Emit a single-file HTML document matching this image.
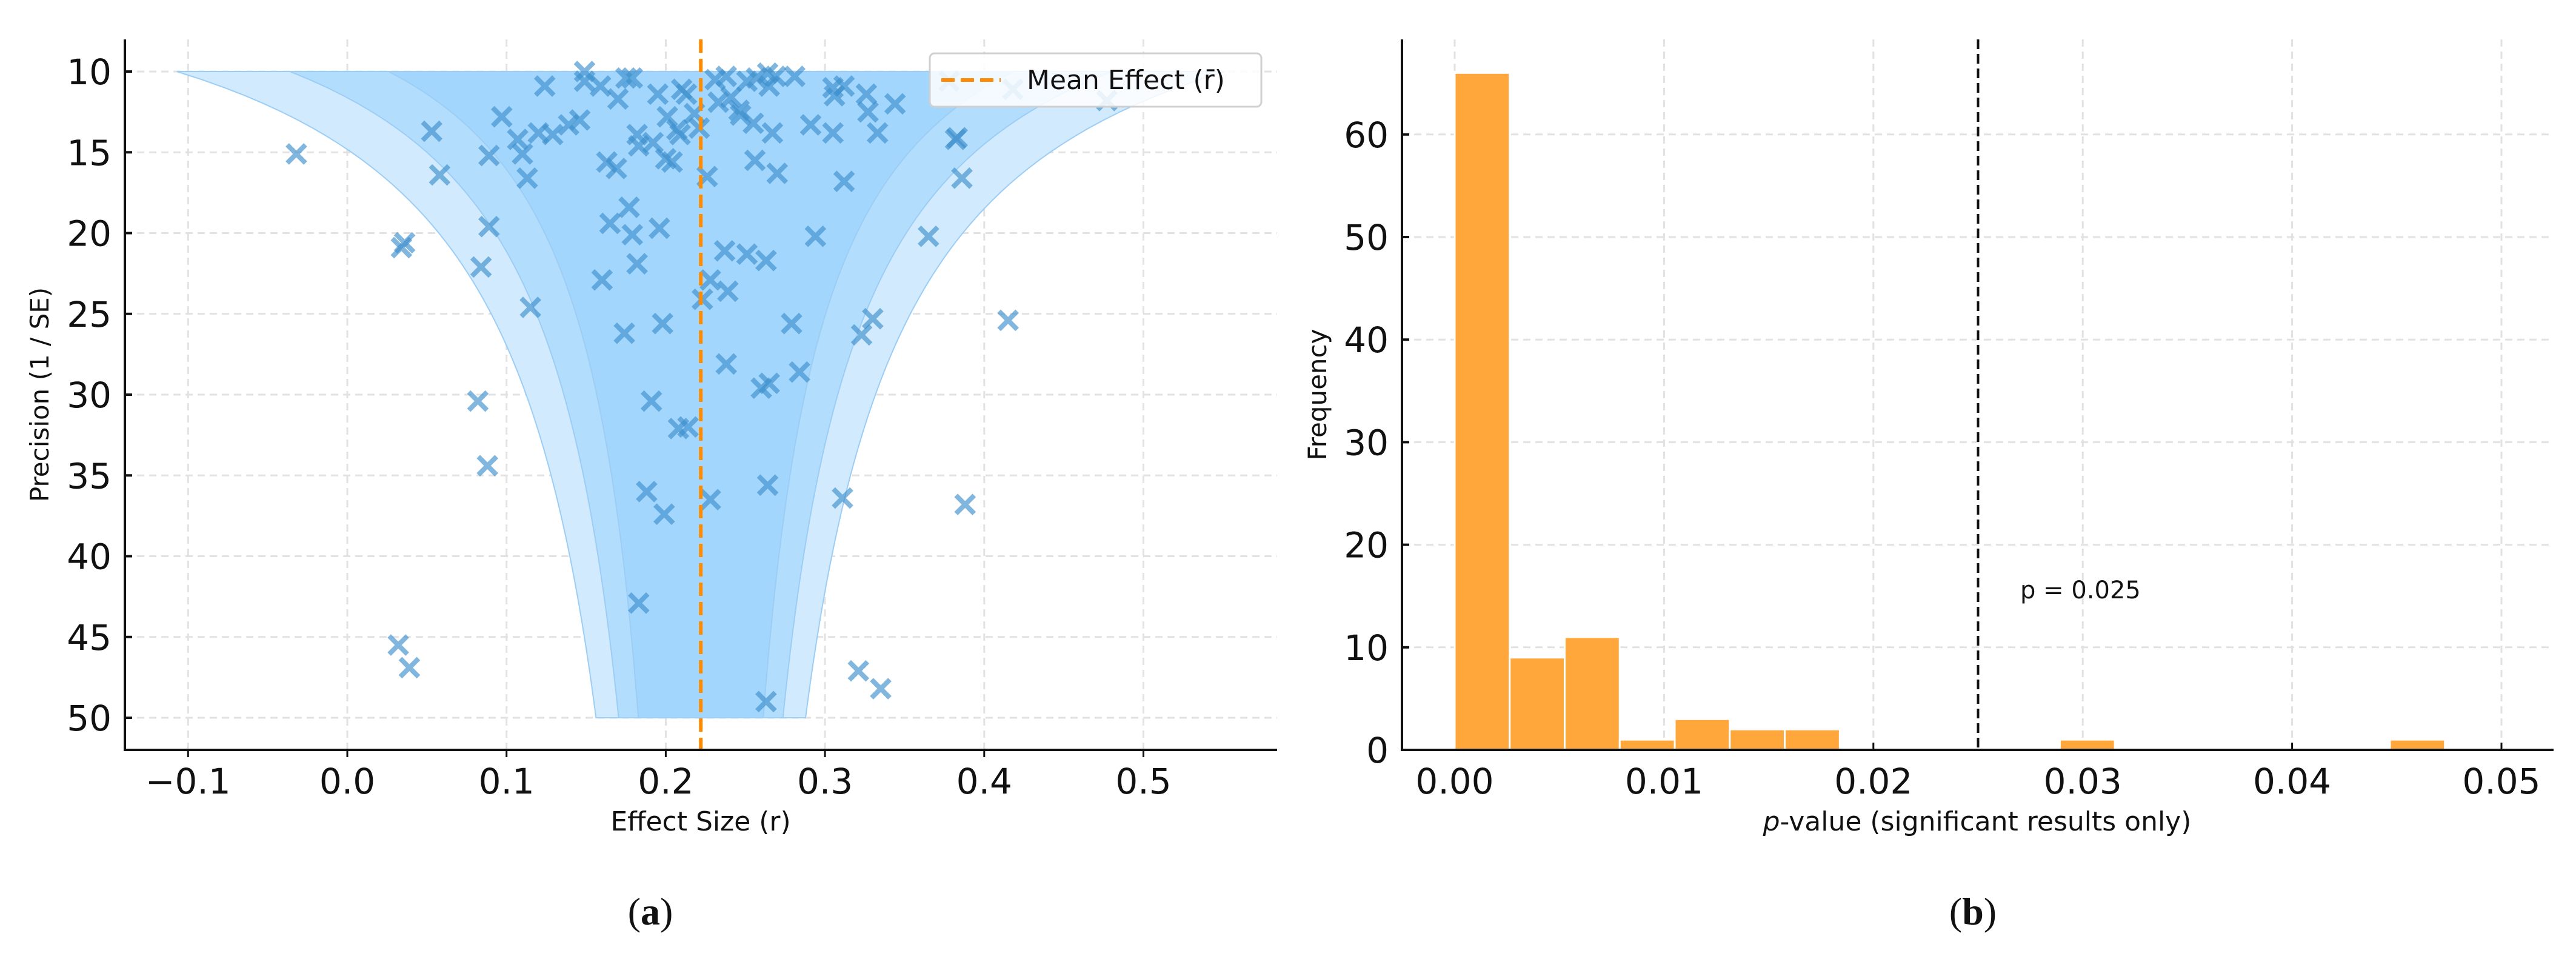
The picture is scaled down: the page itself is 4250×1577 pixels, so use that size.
<!DOCTYPE html>
<html><head><meta charset="utf-8"><style>
html,body{margin:0;padding:0;background:#fff}
svg{display:block}
text{font-family:"DejaVu Sans","Liberation Sans",sans-serif;fill:#111}
</style></head><body>
<svg id="fig" width="4250" height="1577" viewBox="0 0 4250 1577" xmlns="http://www.w3.org/2000/svg">
<g id="panelA"></g>
<g id="panelB"></g>
<text x="1073" y="1525" text-anchor="middle" style="font-family:'Liberation Serif',serif;font-size:64px">(<tspan font-weight="bold">a</tspan>)</text>
<text x="3255" y="1525" text-anchor="middle" style="font-family:'Liberation Serif',serif;font-size:64px">(<tspan font-weight="bold">b</tspan>)</text>
</svg>
<script>
const effects=[-0.032,0.053,0.058,0.036,0.034,0.089,0.089,0.084,0.115,0.082,0.088,0.032,0.039,0.097,0.107,0.110,0.113,0.124,0.120,0.129,0.139,0.146,0.149,0.149,0.159,0.170,0.175,0.179,0.195,0.182,0.183,0.192,0.163,0.169,0.177,0.165,0.179,0.196,0.182,0.160,0.174,0.198,0.191,0.208,0.214,0.188,0.199,0.183,0.201,0.207,0.209,0.204,0.200,0.210,0.213,0.218,0.221,0.223,0.228,0.228,0.226,0.231,0.238,0.241,0.233,0.246,0.247,0.251,0.257,0.264,0.269,0.265,0.281,0.255,0.267,0.270,0.256,0.237,0.251,0.263,0.239,0.238,0.260,0.265,0.264,0.279,0.284,0.294,0.291,0.305,0.306,0.312,0.305,0.312,0.326,0.327,0.333,0.344,0.323,0.330,0.311,0.321,0.335,0.263,0.365,0.382,0.383,0.386,0.388,0.415,0.418,0.477,0.378];
const precisions=[15.1,13.7,16.4,20.6,20.9,15.2,19.6,22.1,24.6,30.4,34.4,45.5,46.9,12.8,14.2,15.1,16.6,10.9,13.8,13.9,13.3,13.0,10.0,10.6,10.9,11.7,10.4,10.4,11.4,13.9,14.6,14.4,15.6,16.0,18.4,19.4,20.1,19.7,21.9,22.9,26.2,25.6,30.4,32.1,32.0,36.0,37.4,42.9,12.8,13.6,13.9,15.6,15.4,11.1,11.4,12.6,13.5,24.1,22.9,36.5,16.5,10.5,10.3,11.6,11.9,12.4,12.7,10.6,10.4,10.1,10.3,10.9,10.3,13.2,13.8,16.3,15.5,21.1,21.3,21.7,23.6,28.1,29.6,29.3,35.6,25.6,28.6,20.2,13.3,11.0,11.5,10.9,13.8,16.8,11.4,12.5,13.8,12.0,26.3,25.3,36.4,47.1,48.2,49.0,20.2,14.2,14.1,16.6,36.8,25.4,11.1,11.8,10.6];
const meanEffect=[0.222];
const funnelZ=[3.29,2.58,1.96];
const xTicksA=[-0.1,0.0,0.1,0.2,0.3,0.4,0.5];
const yTicksA=[10,15,20,25,30,35,40,45,50];
const binCounts=[66,9,11,1,3,2,2,0,0,0,0,1,0,0,0,0,0,1];
const binEdgesRange=[0,0.0473];
const thresholdP=[0.025];
const xTicksB=[0.00,0.01,0.02,0.03,0.04,0.05];
const yTicksB=[0,10,20,30,40,50,60];

const NS="http://www.w3.org/2000/svg";
function mk(parent,tag,attrs,txt){const e=document.createElementNS(NS,tag);for(const k in attrs)e.setAttribute(k,attrs[k]);if(txt!==undefined)e.textContent=txt;parent.appendChild(e);return e;}

// ---- Panel A ----
const A=document.getElementById('panelA');
const aL=206,aR=2107,aT=65,aB=1237;
const ax=v=>573+(v-0)*2627;
const ay=p=>118+(p-10)*26.65;
xTicksA.forEach(t=>{
  const g=mk(A,'line',{x1:ax(t),x2:ax(t),y1:aT,y2:aB,stroke:'#e2e2e2','stroke-width':3,'stroke-dasharray':'12,8'});
  
  
  const tk=mk(A,'line',{x1:ax(t),x2:ax(t),y1:aB,y2:aB+12,stroke:'#111','stroke-width':3});
  
  
  const lb=mk(A,'text',{x:ax(t),y:aB+72,'text-anchor':'middle','font-size':58},(t<0?'\u2212':'')+Math.abs(t).toFixed(1));
  
  
});
yTicksA.forEach(t=>{
  const g=mk(A,'line',{x1:aL,x2:aR,y1:ay(t),y2:ay(t),stroke:'#e2e2e2','stroke-width':3,'stroke-dasharray':'12,8'});
  
  
  const tk=mk(A,'line',{x1:aL,x2:aL+12,y1:ay(t),y2:ay(t),stroke:'#111','stroke-width':4});
  
  
  const lb=mk(A,'text',{x:aL-22,y:ay(t)+21,'text-anchor':'end','font-size':58},String(t));
  
  
});
const fills=['#d2eafd','#b3ddfc','#a2d6fd'];
funnelZ.forEach((z,i)=>{
  const m=meanEffect[0];let pts=[];
  for(let p=10;p<=50.001;p+=0.5)pts.push([ax(m-z/p),ay(p)]);
  for(let p=50;p>=9.999;p-=0.5)pts.push([ax(m+z/p),ay(p)]);
  const poly=mk(A,'polygon',{points:pts.map(q=>q.join(',')).join(' '),fill:fills[i],stroke:'#9ccdf5','stroke-width':2});
  
  
});
effects.forEach((e,i)=>{
  const cx=ax(e),cy=ay(precisions[i]),s=15;
  const p=mk(A,'path',{d:`M${cx-s},${cy-s}L${cx+s},${cy+s}M${cx-s},${cy+s}L${cx+s},${cy-s}`,stroke:'#3d8fcc','stroke-width':8,'stroke-opacity':0.65,fill:'none'});
  
  
});
const ml=mk(A,'line',{x1:ax(meanEffect[0]),x2:ax(meanEffect[0]),y1:aT,y2:aB,stroke:'#ff8c00','stroke-width':6,'stroke-dasharray':'22,10'});


const sp1=mk(A,'path',{d:`M${aL},${aT}L${aL},${aB}L${aR},${aB}`,stroke:'#111','stroke-width':4,fill:'none'});


const leg=mk(A,'g',{});


mk(leg,'rect',{x:1534,y:88,width:547,height:88,rx:8,fill:'#fff','fill-opacity':0.85,stroke:'#d0d0d0','stroke-width':3});
mk(leg,'line',{x1:1553,x2:1651,y1:132,y2:132,stroke:'#ff8c00','stroke-width':6,'stroke-dasharray':'22,10'});
const lt=mk(leg,'text',{x:1694,y:147,'font-size':44},'Mean Effect (r\u0304)');


const xla=mk(A,'text',{x:1156,y:1370,'text-anchor':'middle','font-size':44},'Effect Size (r)');


const yla=mk(A,'text',{x:0,y:0,'text-anchor':'middle','font-size':42,transform:'translate(80,651) rotate(-90)'},'Precision (1 / SE)');



// ---- Panel B ----
const B=document.getElementById('panelB');
const bL=2313,bR=4213,bT=65,bB=1237;
const bx=v=>2400+v*34540;
const by=c=>1237-c*16.92;
xTicksB.forEach(t=>{
  const g=mk(B,'line',{x1:bx(t),x2:bx(t),y1:bT,y2:bB,stroke:'#e2e2e2','stroke-width':3,'stroke-dasharray':'12,8'});
  
  
  const tk=mk(B,'line',{x1:bx(t),x2:bx(t),y1:bB,y2:bB-12,stroke:'#111','stroke-width':3});
  
  
  const lb=mk(B,'text',{x:bx(t),y:bB+72,'text-anchor':'middle','font-size':58},t.toFixed(2));
  
  
});
yTicksB.forEach(t=>{
  const g=mk(B,'line',{x1:bL,x2:bR,y1:by(t),y2:by(t),stroke:'#e2e2e2','stroke-width':3,'stroke-dasharray':'12,8'});
  
  
  const tk=mk(B,'line',{x1:bL,x2:bL+12,y1:by(t),y2:by(t),stroke:'#111','stroke-width':4});
  
  
  const lb=mk(B,'text',{x:bL-22,y:by(t)+21,'text-anchor':'end','font-size':58},String(t));
  
  
});
const bw=(binEdgesRange[1]-binEdgesRange[0])/binCounts.length;
binCounts.forEach((c,i)=>{
  if(c<=0)return;
  const x0=bx(binEdgesRange[0]+i*bw),x1=bx(binEdgesRange[0]+(i+1)*bw);
  const r=mk(B,'rect',{x:x0,y:by(c),width:x1-x0,height:by(0)-by(c),fill:'#ffa73a',stroke:'#ffffff','stroke-width':3});
  
  
});
const tl=mk(B,'line',{x1:bx(thresholdP[0]),x2:bx(thresholdP[0]),y1:bT,y2:bB,stroke:'#111','stroke-width':4,'stroke-dasharray':'16,8'});


const tt=mk(B,'text',{x:3333,y:987,'font-size':40},'p = 0.025');


const sp2=mk(B,'path',{d:`M${bL},${bT}L${bL},${bB}L${bR},${bB}`,stroke:'#111','stroke-width':4,fill:'none'});


const xlb=mk(B,'text',{x:3262,y:1370,'text-anchor':'middle','font-size':44});


mk(xlb,'tspan',{'font-style':'italic'},'p');
mk(xlb,'tspan',{},'-value (significant results only)');
const ylb=mk(B,'text',{x:0,y:0,'text-anchor':'middle','font-size':42,transform:'translate(2188,651) rotate(-90)'},'Frequency');


</script>
</body></html>
